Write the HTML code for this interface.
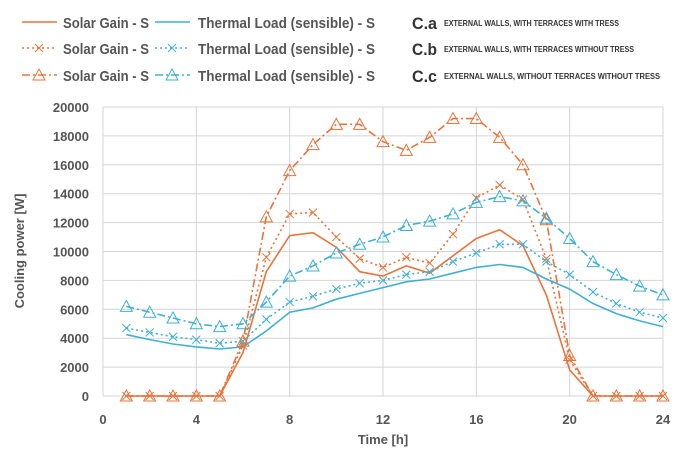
<!DOCTYPE html>
<html><head><meta charset="utf-8"><style>
body{margin:0;background:#fff;}
svg{display:block;font-family:"Liberation Sans",sans-serif;}
</style></head><body>
<svg id="chart" width="689" height="457">
<g id="grid"></g>
<g id="axes"></g>
<g id="series"></g>
<g id="legend"></g>
<text x="383" y="444" text-anchor="middle" font-size="13" font-weight="bold" fill="#555">Time [h]</text>
<text transform="translate(24,251) rotate(-90)" text-anchor="middle" font-size="13" font-weight="bold" fill="#555">Cooling power [W]</text>
</svg>
<script>
const hours=[1,2,3,4,5,6,7,8,9,10,11,12,13,14,15,16,17,18,19,20,21,22,23,24];
const solarA=[0,0,0,0,0,3000,8600,11100,11300,10300,8600,8300,9000,8500,9700,10900,11500,10400,7000,1800,0,0,0,0];
const solarB=[0,0,0,0,0,3500,9600,12600,12700,11000,9500,8900,9600,9200,11200,13700,14600,13600,9500,2500,0,0,0,0];
const solarC=[0,0,0,0,0,3800,12400,15600,17400,18800,18800,17600,17000,17900,19200,19200,17900,16000,12200,2800,0,0,0,0];
const thermA=[4250,3900,3600,3400,3250,3400,4500,5800,6100,6700,7100,7500,7900,8100,8500,8900,9100,8900,8100,7400,6400,5700,5200,4800];
const thermB=[4700,4400,4100,3900,3650,3800,5300,6500,6900,7400,7800,8000,8400,8600,9300,9900,10500,10500,9300,8400,7200,6400,5800,5400];
const thermC=[6200,5800,5400,5000,4800,5000,6500,8300,9000,9900,10500,11000,11800,12100,12600,13400,13800,13500,12300,10900,9300,8400,7600,7000];
const xTicks=[0,4,8,12,16,20,24];
const yTicks=[0,2000,4000,6000,8000,10000,12000,14000,16000,18000,20000];
const NS='http://www.w3.org/2000/svg';
const X0=103,X1=663,Y0=396,Y1=107;
const xs=v=>X0+(v/24)*(X1-X0);
const ys=v=>Y0-(v/20000)*(Y0-Y1);
function mk(tag,attrs,parent){const e=document.createElementNS(NS,tag);for(const k in attrs)e.setAttribute(k,attrs[k]);parent.appendChild(e);return e;}
const grid=document.getElementById('grid'),axes=document.getElementById('axes'),ser=document.getElementById('series'),leg=document.getElementById('legend');
yTicks.forEach(v=>{
 const l=mk('line',{x1:X0,x2:X1,y1:ys(v),y2:ys(v),stroke:'#d4d4d4','stroke-width':1},grid);
 
 
 const t=mk('text',{x:89,y:ys(v)+5,'text-anchor':'end','font-size':13,'font-weight':'bold',fill:'#555'},axes);
 t.textContent=v;
 
 
});
xTicks.forEach(v=>{
 const l=mk('line',{x1:xs(v),x2:xs(v),y1:Y1,y2:Y0,stroke:'#d4d4d4','stroke-width':1},grid);
 
 
 const t=mk('text',{x:xs(v),y:424,'text-anchor':'middle','font-size':13,'font-weight':'bold',fill:'#555'},axes);
 t.textContent=v;
 
 
});
const OR='#e8743b',BL='#3fb0d6';
const defs=[
 {d:solarA,c:OR,dash:'',m:null,n:'solar-gain-a'},
 {d:thermA,c:BL,dash:'',m:null,n:'thermal-load-a'},
 {d:solarB,c:OR,dash:'2,3',m:'x',n:'solar-gain-b'},
 {d:thermB,c:BL,dash:'2,3',m:'x',n:'thermal-load-b'},
 {d:solarC,c:OR,dash:'8,3,2,3',m:'t',n:'solar-gain-c'},
 {d:thermC,c:BL,dash:'8,3,2,3',m:'t',n:'thermal-load-c'}];
function marker(type,x,y,c,parent){
 if(type==='x'){mk('path',{d:`M${x-4} ${y-4}L${x+4} ${y+4}M${x+4} ${y-4}L${x-4} ${y+4}`,stroke:c,'stroke-width':1,fill:'none'},parent);}
 else if(type==='t'){mk('path',{d:`M${x} ${y-6}L${x+6} ${y+5}L${x-6} ${y+5}Z`,stroke:c,'stroke-width':1,fill:'none'},parent);}
}
defs.forEach(s=>{
 const g=mk('g',{},ser);
 
 
 const pts=hours.map((h,i)=>xs(h).toFixed(1)+','+ys(s.d[i]).toFixed(1)).join(' ');
 const p=mk('polyline',{points:pts,fill:'none',stroke:s.c,'stroke-width':1.6,'stroke-dasharray':s.dash},g);
 
 
 if(s.m)hours.forEach((h,i)=>marker(s.m,xs(h),ys(s.d[i]),s.c,g));
});
const rows=[22,48,75];
const descs=['EXTERNAL WALLS, WITH TERRACES WITH TRESS','EXTERNAL WALLS, WITH TERRACES WITHOUT TRESS','EXTERNAL WALLS, WITHOUT TERRACES WITHOUT TRESS'];
const descW=[175,190,216];
const codes=['C.a','C.b','C.c'];
rows.forEach((y,r)=>{
 const ss=[defs[r*2],defs[r*2+1]];
 [[22,'Solar Gain - S',63,86],[155,'Thermal Load (sensible) - S',198,177]].forEach((e,k)=>{
  const s=ss[k];
  const g=mk('g',{},leg);
  
  
  mk('line',{x1:e[0],x2:e[0]+35,y1:y,y2:y,stroke:s.c,'stroke-width':1.6,'stroke-dasharray':s.dash},g);
  if(s.m)marker(s.m,e[0]+17,y,s.c,g);
  const t=mk('text',{x:e[2],y:y+6,'font-size':15,'font-weight':'bold',fill:'#555',textLength:e[3],lengthAdjust:'spacingAndGlyphs'},g);
  t.textContent=e[1];
 });
 const t=mk('text',{x:412,y:y+7,'font-size':17,'font-weight':'bold',fill:'#333',textLength:25,lengthAdjust:'spacingAndGlyphs'},leg);
 t.textContent=codes[r];
 
 
 const d=mk('text',{x:444,y:y+4,'font-size':8,'font-weight':'bold',fill:'#333',textLength:descW[r],lengthAdjust:'spacingAndGlyphs'},leg);
 d.textContent=descs[r];
 
 
});
</script>
</body></html>
